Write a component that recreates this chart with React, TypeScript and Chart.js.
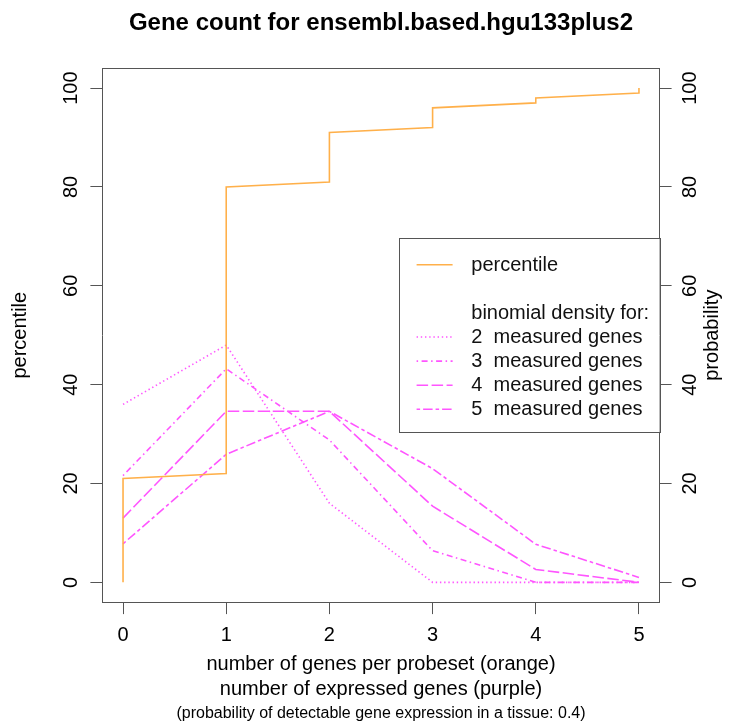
import React, { useEffect, useRef } from 'react';
import { Chart, registerables } from 'chart.js';

Chart.register(...registerables);

// ---------- data ----------
const xTickValues = [0, 1, 2, 3, 4, 5];
const yTickValues = [0, 20, 40, 60, 80, 100];

// percentile step curve (number of genes per probeset)
const percentileX = [0, 0, 1, 1, 2, 2, 3, 3, 4, 4, 5, 5];
const percentileY = [0, 21, 22, 80, 81, 91, 92, 96, 97, 98, 99, 100];

// binomial densities (in %) for number of expressed genes
const expressedGenes = [0, 1, 2, 3, 4, 5];
const density2 = [36, 48, 16, 0, 0, 0];
const density3 = [21.6, 43.2, 28.8, 6.4, 0, 0];
const density4 = [13, 34.6, 34.6, 15.4, 2.6, 0];
const density5 = [7.8, 25.9, 34.6, 23, 7.7, 1];

const seriesLabels = ['percentile', '2  measured genes', '3  measured genes', '4  measured genes', '5  measured genes'];
const legendHeader = 'binomial density for:';
const titleText = 'Gene count for ensembl.based.hgu133plus2';
const xTitleLines = ['number of genes per probeset (orange)', 'number of expressed genes (purple)'];
const subText = '(probability of detectable gene expression in a tissue: 0.4)';
const yTitleLeft = 'percentile';
const yTitleRight = 'probability';

// ---------- styles ----------
const FONT = "'Liberation Sans', Arial, Helvetica, sans-serif";
const ORANGE = '#FFB04A';
const MAGENTA = '#FF55FF';
const BOX = '#555555';
const LW = 1.6;
const dashes: number[][] = [[], [1.4, 2.8], [1.5, 3.5, 6, 3.5], [11.5, 3.5], [3.5, 3, 9.5, 3]];

const toPoints = (xs: number[], ys: number[]) => xs.map((x, i) => ({ x, y: ys[i] }));

const extrasPlugin = {
  id: 'extras',
  afterDraw(chart: any) {
    const { ctx, chartArea: a } = chart;
    ctx.save();
    // top border of the plot box
    ctx.strokeStyle = BOX;
    ctx.lineWidth = 1;
    ctx.beginPath();
    const ty = Math.round(a.top) + 0.5;
    ctx.moveTo(a.left, ty);
    ctx.lineTo(a.right, ty);
    ctx.stroke();

    // right axis title (reads bottom to top)
    ctx.save();
    ctx.translate(a.right + 52.5, (a.top + a.bottom) / 2);
    ctx.rotate(-Math.PI / 2);
    ctx.font = `20px ${FONT}`;
    ctx.fillStyle = '#000';
    ctx.textAlign = 'center';
    ctx.textBaseline = 'middle';
    ctx.fillText(yTitleRight, 0, 0);
    ctx.restore();

    // legend
    const boxW = 261;
    const boxH = 194;
    const right = a.right;
    const left = right - boxW;
    const top = (a.top + a.bottom) / 2 - boxH / 2;
    ctx.fillStyle = '#fff';
    ctx.fillRect(left, top, boxW, boxH);
    ctx.strokeStyle = BOX;
    ctx.lineWidth = 1;
    ctx.strokeRect(Math.round(left) + 0.5, Math.round(top) + 0.5, Math.round(boxW), Math.round(boxH));

    const rowH = 24.1;
    const firstRow = top + 26.5;
    const ds = chart.data.datasets;
    const rows: { text: string; dsIndex: number | null }[] = [
      { text: ds[0].label, dsIndex: 0 },
      { text: '', dsIndex: null },
      { text: legendHeader, dsIndex: null },
      { text: ds[1].label, dsIndex: 1 },
      { text: ds[2].label, dsIndex: 2 },
      { text: ds[3].label, dsIndex: 3 },
      { text: ds[4].label, dsIndex: 4 },
    ];
    ctx.font = `20px ${FONT}`;
    ctx.textAlign = 'left';
    ctx.textBaseline = 'middle';
    rows.forEach((r, i) => {
      const y = firstRow + i * rowH;
      if (r.dsIndex !== null) {
        const d = ds[r.dsIndex];
        ctx.save();
        ctx.strokeStyle = d.borderColor;
        ctx.lineWidth = d.borderWidth;
        ctx.setLineDash(d.borderDash || []);
        ctx.beginPath();
        ctx.moveTo(left + 18, y);
        ctx.lineTo(left + 54, y);
        ctx.stroke();
        ctx.restore();
      }
      if (r.text) {
        ctx.fillStyle = '#111';
        ctx.fillText(r.text, left + 72.7, y + 0.5);
      }
    });
    ctx.restore();
  },
};

export default function App() {
  const canvasRef = useRef<HTMLCanvasElement | null>(null);

  useEffect(() => {
    if (!canvasRef.current) return;
    Chart.defaults.font.family = FONT;
    Chart.defaults.color = '#000';

    const lineDs = (label: string, data: any[], color: string, dash: number[]) => ({
      label,
      data,
      borderColor: color,
      backgroundColor: color,
      borderWidth: LW,
      borderDash: dash,
      pointRadius: 0,
      fill: false,
      tension: 0,
      yAxisID: 'y',
      xAxisID: 'x',
    });

    const chart = new Chart(canvasRef.current, {
      type: 'line',
      data: {
        datasets: [
          lineDs(seriesLabels[0], toPoints(percentileX, percentileY), ORANGE, dashes[0]),
          lineDs(seriesLabels[1], toPoints(expressedGenes, density2), MAGENTA, dashes[1]),
          lineDs(seriesLabels[2], toPoints(expressedGenes, density3), MAGENTA, dashes[2]),
          lineDs(seriesLabels[3], toPoints(expressedGenes, density4), MAGENTA, dashes[3]),
          lineDs(seriesLabels[4], toPoints(expressedGenes, density5), MAGENTA, dashes[4]),
        ],
      },
      options: {
        responsive: false,
        animation: false,
        events: [],
        layout: { padding: 0 },
        scales: {
          x: {
            type: 'linear',
            position: 'bottom',
            min: -0.2,
            max: 5.2,
            afterBuildTicks: (s: any) => {
              s.ticks = xTickValues.map((v) => ({ value: v }));
            },
            afterFit: (s: any) => {
              s.height = 99.9;
            },
            ticks: {
              font: { size: 20, lineHeight: 1.2 },
              color: '#000',
              padding: 9,
              maxRotation: 0,
              minRotation: 0,
              callback: (v: any) => String(v),
            },
            grid: { drawOnChartArea: false, drawTicks: true, tickLength: 12, color: BOX, lineWidth: 1 },
            border: { display: true, color: BOX, width: 1 },
            title: {
              display: true,
              text: xTitleLines,
              font: { size: 20, lineHeight: 1.25 },
              color: '#000',
              padding: { top: 0, bottom: 0 },
            },
          },
          y: {
            type: 'linear',
            position: 'left',
            min: -4,
            max: 104,
            afterBuildTicks: (s: any) => {
              s.ticks = yTickValues.map((v) => ({ value: v }));
            },
            afterFit: (s: any) => {
              s.width = 102.4;
            },
            ticks: {
              font: { size: 20, lineHeight: 1.2 },
              color: '#000',
              padding: 2,
              minRotation: 90,
              maxRotation: 90,
              crossAlign: 'center',
              callback: (v: any) => String(v),
            },
            grid: { drawOnChartArea: false, drawTicks: true, tickLength: 12, color: BOX, lineWidth: 1 },
            border: { display: true, color: BOX, width: 1 },
            title: {
              display: true,
              text: yTitleLeft,
              font: { size: 20, lineHeight: 1.2 },
              color: '#000',
              padding: { top: 8, bottom: 0 },
            },
          },
          y2: {
            type: 'linear',
            position: 'right',
            min: -4,
            max: 104,
            afterBuildTicks: (s: any) => {
              s.ticks = yTickValues.map((v) => ({ value: v }));
            },
            afterFit: (s: any) => {
              s.width = 74.4;
            },
            ticks: {
              font: { size: 20, lineHeight: 1.2 },
              color: '#000',
              padding: 2,
              minRotation: 90,
              maxRotation: 90,
              crossAlign: 'center',
              callback: (v: any) => String(v),
            },
            grid: { drawOnChartArea: false, drawTicks: true, tickLength: 12, color: BOX, lineWidth: 1 },
            border: { display: true, color: BOX, width: 1 },
          },
        },
        plugins: {
          legend: { display: false },
          tooltip: { enabled: false },
          title: {
            display: true,
            text: titleText,
            fullSize: false,
            font: { size: 24, weight: 'bold', lineHeight: 1.2 },
            color: '#000',
            padding: { top: 9.2, bottom: 30.3 },
          },
          subtitle: {
            display: true,
            text: subText,
            position: 'bottom',
            fullSize: false,
            font: { size: 16, lineHeight: 1.2 },
            color: '#000',
            padding: { top: 2.4, bottom: 3.4 },
          },
        },
      } as any,
      plugins: [extrasPlugin],
    });
    return () => chart.destroy();
  }, []);

  return (
    <div style={{ position: 'absolute', left: 0, top: 0, width: 734, height: 727, background: '#fff' }}>
      <canvas ref={canvasRef} width={734} height={727} style={{ width: 734, height: 727, display: 'block' }} />
    </div>
  );
}
